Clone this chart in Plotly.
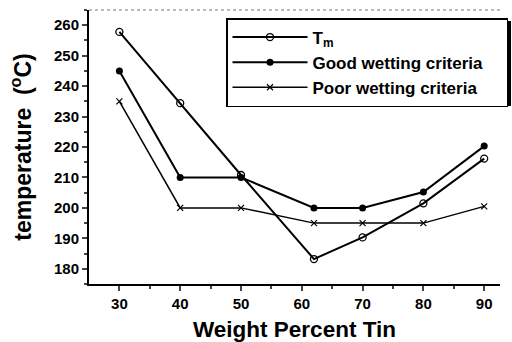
import plotly.graph_objects as go

x_vals = [30, 40, 50, 62, 70, 80, 90]
tm = [257.8, 234.4, 210.8, 183.2, 190.3, 201.5, 216.2]
good = [245, 210, 210, 200, 200, 205.2, 220.3]
poor = [235, 200, 200, 195, 195, 195, 200.5]

x_ticks = [30, 40, 50, 60, 70, 80, 90]
y_ticks = [180, 190, 200, 210, 220, 230, 240, 250, 260]

NB = "\u00a0"
fig = go.Figure()
fig.add_trace(go.Scatter(
    x=x_vals, y=tm, mode="lines+markers", name="T<sub>m</sub>",
    line=dict(color="black", width=2),
    marker=dict(symbol="circle-open", size=7, color="black", line=dict(width=1.3)),
))
fig.add_trace(go.Scatter(
    x=x_vals, y=good, mode="lines+markers", name="Good wetting criteria" + NB * 4,
    line=dict(color="black", width=2),
    marker=dict(symbol="circle", size=7, color="black"),
))
fig.add_trace(go.Scatter(
    x=x_vals, y=poor, mode="lines+markers", name="Poor wetting criteria",
    line=dict(color="black", width=1.5),
    marker=dict(symbol="x-thin-open", size=6, color="black", line=dict(width=1.2, color="black")),
))

W, H = 512, 342
L, R, T, B = 89, 12, 10, 58
PW, PH = W - L - R, H - T - B


def px(x):
    return (x - L) / PW


def py(y):
    return 1 - (y - T) / PH


FONT = "Liberation Sans, Arial, sans-serif"

fig.update_layout(
    width=W, height=H,
    margin=dict(l=L, r=R, t=T, b=B, autoexpand=False),
    paper_bgcolor="white", plot_bgcolor="white",
    font=dict(family=FONT, color="black", weight="bold"),
    showlegend=True,
    legend=dict(
        x=px(226), y=py(18), xanchor="left", yanchor="top",
        bgcolor="white", bordercolor="black", borderwidth=1.5,
        font=dict(size=17, color="black", family=FONT, weight="bold"),
        itemwidth=75, tracegroupgap=0,
    ),
    xaxis=dict(
        range=[25, 92.6], tickvals=x_ticks, ticks="outside", ticklen=5, tickwidth=1.5,
        minor=dict(tickvals=[35, 45, 55, 65, 75, 85], ticks="outside", ticklen=3, tickwidth=1.5),
        showline=True, linecolor="black", linewidth=2, showgrid=False, zeroline=False,
        tickfont=dict(size=15, family=FONT, weight="bold"),
        title=dict(text="Weight Percent Tin" + NB * 2, font=dict(size=22.5, family=FONT, weight="bold"), standoff=10),
    ),
    yaxis=dict(
        range=[175, 265], tickvals=y_ticks, ticks="outside", ticklen=5, tickwidth=1.5,
        minor=dict(tickvals=[175, 185, 195, 205, 215, 225, 235, 245, 255, 265], ticks="outside", ticklen=3, tickwidth=1.5),
        showline=True, linecolor="black", linewidth=2, showgrid=False, zeroline=False,
        tickfont=dict(size=15, family=FONT, weight="bold"),
        title=dict(text="temperature  (<sup>o</sup>C)", font=dict(size=23, family=FONT, weight="bold"), standoff=16),
    ),
)

# faint broken top border as in the scanned original
fig.add_shape(type="line", xref="paper", yref="paper", x0=0, x1=1, y0=1, y1=1,
              line=dict(color="#777", width=1, dash="dot"))
# drop shadow of the legend box
fig.add_shape(type="rect", xref="paper", yref="paper",
              x0=px(229), x1=px(511), y0=py(106), y1=py(21),
              line=dict(width=0), fillcolor="black", layer="above")

fig.write_html("out.html")
